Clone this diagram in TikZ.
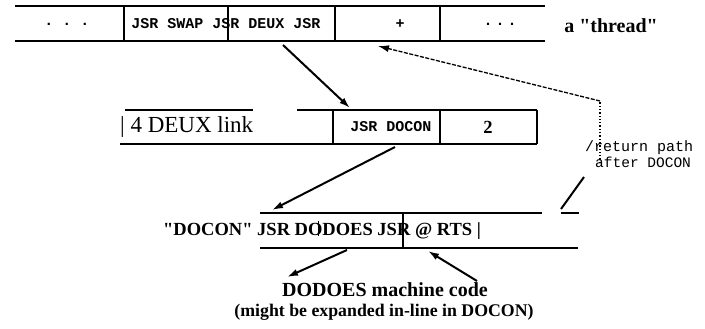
\documentclass[tikz,border=0pt]{standalone}
\usepackage{fontspec}
\newfontfamily\serif{Liberation Serif}
\setmainfont{Liberation Serif}
\setmonofont{Liberation Mono}
\usetikzlibrary{arrows.meta,positioning}

\begin{document}
\begin{tikzpicture}[x=1pt, y=-1pt,
  wall/.style={line width=1.6pt},
  cell/.style={inner sep=0pt, font=\fontsize{15}{17}\selectfont\ttfamily\bfseries},
  big/.style={inner sep=0pt, font=\fontsize{18.5}{21}\selectfont\serif\bfseries},
  note/.style={inner sep=0pt, anchor=west, font=\fontsize{14.5}{17}\selectfont\ttfamily},
  ptr/.style={line width=2pt, -{Latex[length=11pt,width=7pt]}},
  back/.style={line width=1.3pt, dash pattern=on 4pt off 1.5pt, -{Latex[length=11pt,width=7pt]}}
]
  \useasboundingbox (0,0) rectangle (705,329);
  % the thread
  \node[cell] (dotsl) at (67,24) {. . .};
  \node[cell] (jsrs) at (226,24) {JSR SWAP JSR DEUX JSR};
  \node[cell] (plus) at (400,24) {+};
  \node[cell] (dotsr) at (500,24) {.\hspace{3pt}.\hspace{3pt}.};
  \node[big, font=\fontsize{20}{22}\selectfont\serif\bfseries] (thread) at (611,26) {a "thread"};
  \draw[wall] (15,6) -- (545,6) (15,41) -- (545,41);
  \foreach \x in {124,228,335,440} \draw[wall] (\x,6) -- (\x,41);

  % DEUX header and body
  \node[inner sep=0pt, anchor=west, font=\fontsize{23}{26}\selectfont\serif] (deuxhead) at (120,127) {| 4 DEUX link};
  \node[cell] (docon) at (391,127) {JSR DOCON};
  \node[big] (two) at (488,127) {2};
  \draw[wall] (125,110) -- (253,110) (297,110) -- (537,110) (120,144) -- (537,144);
  \foreach \x in {333,440,537} \draw[wall] (\x,110) -- (\x,144);

  % DOCON
  \node[big, anchor=west] (docode) at (163,231) {"DOCON" JSR DODOES JSR @ RTS |};
  \draw[wall] (260,213) -- (542,213) (561,213) -- (579,213) (260,248) -- (578,248);
  \draw[wall] (403,213) -- (403,248);
  \draw[line width=1pt] (318.5,221) -- (318.5,236);

  \node[big, font=\fontsize{20}{22}\selectfont\serif\bfseries] (mcode) at (385,290) {DODOES machine code};
  \node[big, font=\fontsize{17.8}{19}\selectfont\serif\bfseries] (mnote) at (384,312) {(might be expanded in-line in DOCON)};

  % return path
  \node[note, font=\fontsize{15}{17}\selectfont\ttfamily] (retlab) at (585,148) {/return path};
  \node[note] (retlab2) at (595,162) {after DOCON};

  \coordinate (deuxsrc) at (283,45);
  \coordinate (deuxin) at (350,108);
  \coordinate (doconsrc) at (395,147);
  \coordinate (doconin) at (272,210);
  \coordinate (codesrc) at (347,250);
  \coordinate (codein) at (287,277);
  \coordinate (rtssrc) at (477,281);
  \coordinate (rtsin) at (428,251);
  \coordinate (turn) at (600,101);
  \coordinate (retfoot) at (600,163);
  \coordinate (plusin) at (378,46);
  \coordinate (slasha) at (561,209);
  \coordinate (slashb) at (584,177);

  \draw[ptr] (deuxsrc) -- (deuxin);
  \draw[ptr] (doconsrc) -- (doconin);
  \draw[ptr] (codesrc) -- (codein);
  \draw[ptr] (rtssrc) -- (rtsin);
  \draw[line width=1.3pt, dotted] (retfoot) -- (turn);
  \draw[back] (turn) -- (plusin);
  \draw[line width=2pt] (slasha) -- (slashb);
\end{tikzpicture}
\end{document}
